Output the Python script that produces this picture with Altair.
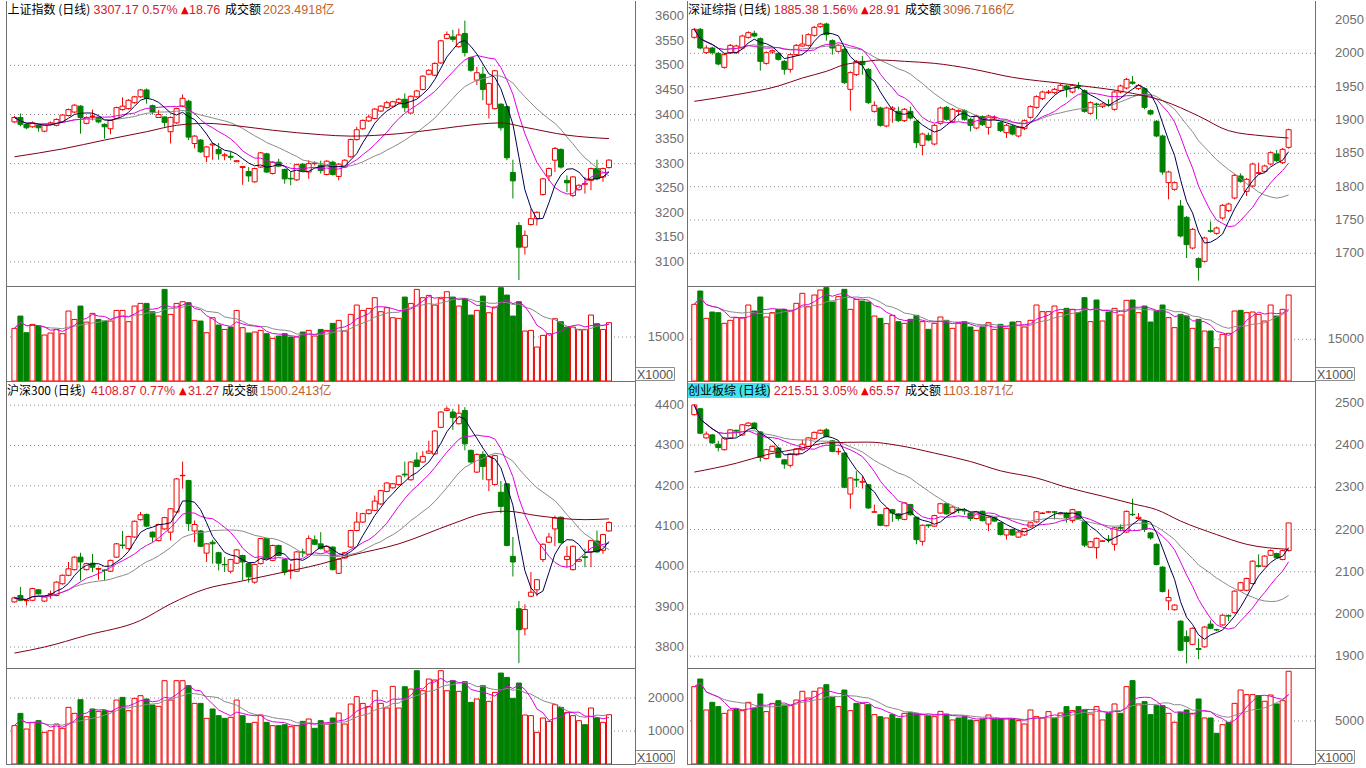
import altair as alt
import pandas as pd

# ---------------- 上证指数 ----------------
SH_TEXT = ["上证指数 (日线)", "3307.17 0.57%", "18.76", "2023.4918亿"]
SH_O = [3385,3394,3380,3375,3378,3366,3380,3378,3385,3398,
        3405,3417,3382,3396,3394,3380,3371,3392,3410,3412,
        3424,3436,3450,3418,3394,3395,3365,3383,3417,3427,
        3341,3348,3314,3338,3329,3316,3315,3304,3292,3284,
        3263,3293,3320,3280,3303,3288,3270,3267,3299,3283,
        3300,3297,3278,3303,3274,3293,3314,3349,3371,3387,
        3392,3407,3414,3417,3424,3431,3403,3436,3451,3482,
        3480,3505,3555,3558,3538,3565,3516,3470,3482,3421,
        3412,3421,3416,3282,3174,3130,3176,3188,3237,3275,
        3307,3329,3266,3235,3247,3258,3266,3290,3273,3292]
SH_H = [3397,3402,3382,3386,3380,3382,3386,3392,3401,3412,
        3421,3419,3396,3410,3396,3382,3390,3416,3435,3431,
        3438,3452,3453,3420,3409,3396,3396,3414,3441,3430,
        3358,3350,3336,3342,3342,3322,3324,3307,3295,3293,
        3292,3324,3322,3305,3310,3290,3283,3300,3301,3307,
        3305,3306,3307,3306,3301,3309,3351,3375,3390,3400,
        3413,3419,3428,3428,3434,3443,3439,3450,3480,3492,
        3506,3552,3569,3572,3575,3591,3518,3497,3497,3465,
        3491,3423,3418,3308,3181,3164,3208,3203,3271,3292,
        3334,3331,3276,3275,3258,3273,3292,3308,3292,3309]
SH_L = [3383,3376,3370,3373,3365,3364,3378,3376,3383,3396,
        3403,3361,3380,3388,3382,3351,3360,3390,3408,3410,
        3422,3434,3422,3400,3393,3375,3341,3381,3415,3348,
        3331,3322,3303,3308,3308,3307,3307,3303,3257,3263,
        3261,3291,3281,3278,3293,3259,3256,3265,3284,3269,
        3296,3280,3276,3276,3266,3291,3312,3347,3369,3385,
        3390,3405,3412,3415,3422,3405,3401,3434,3449,3480,
        3478,3503,3553,3548,3536,3518,3487,3460,3429,3392,
        3410,3367,3307,3229,3063,3115,3174,3174,3235,3265,
        3283,3290,3242,3232,3245,3239,3246,3266,3263,3290]
SH_C = [3394,3380,3373,3383,3373,3380,3383,3390,3399,3410,
        3419,3394,3394,3397,3385,3375,3388,3414,3417,3429,
        3436,3450,3433,3405,3400,3384,3394,3412,3433,3354,
        3356,3324,3334,3340,3320,3318,3313,3306,3294,3275,
        3290,3322,3283,3303,3295,3269,3269,3298,3286,3300,
        3301,3286,3305,3278,3299,3307,3349,3369,3388,3395,
        3411,3417,3424,3426,3431,3414,3437,3448,3478,3490,
        3504,3550,3563,3553,3562,3526,3490,3485,3451,3463,
        3489,3373,3312,3265,3130,3154,3188,3201,3269,3290,
        3331,3293,3261,3273,3256,3260,3290,3269,3290,3307.17]
SH_V = [17950,22150,16470,19300,18750,15680,16360,17600,16130,23860,
        21000,25560,20100,23060,21000,20450,20450,24080,24080,20220,
        25560,26470,26470,23630,22150,31240,22720,26470,27040,26700,
        20680,20450,16470,21580,19080,17600,18400,24080,18180,16360,
        16700,17270,16130,14540,15340,16130,15000,15000,16700,17270,
        15340,17600,17270,19650,20680,17040,22720,25900,24080,24770,
        28400,23630,24990,21580,21360,28630,26470,31240,28400,29200,
        25900,28060,30440,28630,25560,28060,22490,24080,28970,23290,
        25220,31810,29310,22150,27040,17040,17270,11590,15560,16130,
        21240,20220,18400,18400,17600,17600,22490,19540,17600,19880]
SH_MA60_I = [0, 8, 15, 22, 27, 32, 37, 43, 51, 56, 64, 71, 77, 81, 85, 92, 99]
SH_MA60_V = [3314, 3330, 3348, 3365, 3378, 3382, 3377, 3368, 3359, 3356, 3361, 3371, 3380, 3383, 3374, 3358, 3351]
SH_YTICKS = [3100, 3150, 3200, 3250, 3300, 3350, 3400, 3450, 3500, 3550, 3600]
SH_GRID = [3100, 3200, 3300, 3400, 3500]
SH_VTICKS = [15000]

# ---------------- 深证综指 ----------------
SZ_TEXT = ["深证综指 (日线)", "1885.38 1.56%", "28.91", "3096.7166亿"]
SZ_O = [2024,2036,2001,2008,2000,1979,2001,2001,2008,2024,
        2030,2022,1985,2002,2000,1988,1976,1998,2011,2012,
        2027,2040,2044,2019,2003,2006,1946,1968,1988,1976,
        1913,1918,1891,1916,1913,1899,1913,1898,1862,1877,
        1864,1895,1919,1898,1913,1914,1901,1888,1905,1889,
        1903,1896,1881,1891,1876,1887,1904,1919,1932,1941,
        1941,1944,1951,1942,1951,1944,1910,1924,1920,1923,
        1916,1942,1948,1957,1947,1947,1914,1898,1876,1806,
        1796,1771,1754,1708,1692,1688,1734,1730,1753,1764,
        1783,1816,1793,1801,1820,1823,1834,1849,1836,1859]
SZ_H = [2038,2038,2012,2010,2002,2000,2014,2013,2028,2033,
        2034,2024,2003,2006,2002,1990,2000,2014,2028,2030,
        2041,2046,2046,2021,2014,2008,1973,1990,1996,1978,
        1928,1920,1920,1921,1920,1918,1920,1900,1881,1881,
        1894,1920,1921,1918,1916,1916,1903,1908,1907,1908,
        1907,1898,1894,1893,1891,1901,1922,1937,1944,1945,
        1948,1954,1953,1954,1957,1946,1928,1926,1926,1931,
        1944,1953,1963,1966,1954,1949,1916,1900,1878,1824,
        1808,1780,1756,1738,1694,1725,1748,1740,1774,1776,
        1819,1820,1813,1836,1836,1833,1853,1855,1858,1887]
SZ_L = [2022,2006,1999,1998,1982,1977,1999,1999,2006,2022,
        2024,1974,1983,1999,1989,1968,1971,1996,2010,2010,
        2025,2038,2019,1998,2001,1954,1914,1966,1968,1924,
        1911,1890,1889,1896,1897,1897,1901,1858,1847,1868,
        1862,1893,1899,1896,1906,1899,1883,1886,1891,1878,
        1900,1882,1873,1877,1874,1885,1902,1917,1930,1939,
        1939,1942,1934,1940,1946,1911,1908,1901,1918,1920,
        1914,1940,1946,1953,1945,1916,1907,1874,1818,1781,
        1794,1724,1693,1706,1659,1686,1731,1728,1751,1762,
        1781,1806,1786,1799,1818,1821,1832,1837,1834,1857]
SZ_C = [2036,2008,2008,2001,1984,1998,2012,2011,2026,2031,
        2026,1988,2001,2004,1991,1976,1998,2012,2014,2028,
        2039,2044,2028,2008,2012,1956,1971,1988,1983,1926,
        1922,1892,1918,1918,1899,1916,1903,1866,1879,1870,
        1892,1918,1901,1916,1914,1901,1892,1906,1893,1906,
        1904,1884,1892,1879,1889,1899,1920,1935,1942,1942,
        1946,1952,1947,1952,1950,1913,1926,1923,1924,1922,
        1942,1951,1961,1955,1952,1919,1909,1876,1822,1822,
        1806,1726,1713,1736,1679,1723,1733,1738,1772,1774,
        1817,1808,1811,1834,1821,1831,1851,1839,1856,1885.38]
SZ_V = [27600,32400,22560,24840,24600,20760,21840,22800,22800,27360,
        25200,30240,23040,24600,25800,25800,25440,27960,31560,26760,
        30960,32760,33600,28440,30360,33000,25800,29400,28800,28440,
        23400,22560,20640,23640,21360,20760,22200,23640,21360,18600,
        20760,23040,21840,18960,20760,21360,19440,18240,19440,21000,
        18600,20400,18960,21240,21360,19440,21840,27360,24960,24960,
        27000,24600,26160,25800,24600,30000,21360,29160,21600,24840,
        26160,23760,29040,29160,24600,27000,21240,25200,27360,22800,
        19200,24000,23400,18960,22200,18000,18000,12000,16800,17160,
        25200,25440,24600,24840,24000,21600,27360,23400,25800,30960]
SZ_MA60_I = [0, 7, 14, 18, 22, 25, 28, 31, 35, 40, 46, 53, 62, 73, 78, 84, 89, 95, 99]
SZ_MA60_V = [1928, 1938, 1951, 1963, 1973, 1983, 1987, 1990, 1988, 1985, 1977, 1964, 1954, 1940, 1929, 1906, 1884, 1876, 1873]
SZ_YTICKS = [1700, 1750, 1800, 1850, 1900, 1950, 2000, 2050]
SZ_GRID = [1700, 1750, 1800, 1850, 1900, 1950, 2000]
SZ_VTICKS = [15000]

# ---------------- 沪深300 ----------------
HS_TEXT = ["沪深300 (日线)", "4108.87 0.77%", "31.27", "1500.2413亿"]
HS_O = [3912,3928,3915,3916,3942,3914,3931,3928,3957,3978,
        3992,4023,3992,4008,3993,3991,3988,4023,4053,4044,
        4073,4116,4129,4085,4064,4093,4085,4135,4225,4213,
        4088,4088,4033,4060,4034,4005,3988,4008,4027,4007,
        3961,4007,4069,4015,4052,4017,3989,3988,4036,4030,
        4066,4056,4038,4048,3983,4021,4048,4089,4110,4131,
        4139,4155,4186,4195,4203,4229,4215,4264,4259,4281,
        4279,4345,4387,4383,4354,4387,4288,4234,4278,4215,
        4203,4184,4205,4025,3895,3845,3926,3942,4017,4060,
        4093,4122,4017,3992,4013,4024,4036,4063,4040,4088]
HS_H = [3925,3949,3918,3947,3944,3926,3940,3963,3980,4011,
        4025,4034,4009,4031,3997,3993,4017,4058,4088,4076,
        4114,4135,4131,4087,4106,4123,4145,4219,4260,4215,
        4114,4090,4058,4066,4036,4023,4019,4043,4029,4009,
        4007,4071,4071,4054,4054,4019,4007,4038,4044,4077,
        4077,4085,4052,4050,4020,4036,4091,4135,4133,4142,
        4176,4190,4209,4207,4226,4260,4261,4283,4286,4312,
        4338,4385,4397,4391,4402,4395,4290,4280,4286,4275,
        4277,4212,4207,4073,3914,3906,3986,3969,4057,4083,
        4126,4124,4050,4052,4019,4044,4066,4089,4081,4112]
HS_L = [3910,3914,3903,3914,3930,3912,3920,3926,3955,3976,
        3990,3965,3990,3986,3967,3965,3986,4021,4044,4042,
        4071,4114,4098,4060,4062,4091,4064,4133,4193,4088,
        4060,4048,4011,4007,3990,3986,3983,4006,3965,3960,
        3957,4005,4017,4013,4025,3978,3969,3986,4023,4028,
        4053,4042,4036,3990,3982,4019,4046,4087,4108,4129,
        4137,4153,4184,4193,4201,4221,4213,4246,4257,4279,
        4277,4343,4385,4339,4352,4288,4255,4232,4215,4187,
        4201,4132,4050,3975,3760,3829,3924,3926,4011,4058,
        4050,4057,3998,3990,4011,3998,3998,4034,4031,4086]
HS_C = [3922,3916,3916,3945,3932,3924,3932,3961,3978,3994,
        4023,4011,4007,3998,3995,3990,4015,4056,4052,4074,
        4112,4128,4100,4073,4104,4121,4143,4217,4226,4106,
        4104,4050,4056,4056,4008,4004,4017,4041,4011,3974,
        4005,4069,4019,4052,4027,3986,3991,4036,4035,4069,
        4055,4044,4050,3992,4018,4034,4089,4110,4131,4140,
        4162,4188,4207,4205,4224,4227,4259,4248,4273,4286,
        4336,4383,4391,4369,4380,4304,4259,4278,4248,4273,
        4275,4149,4052,4011,3843,3893,3936,3967,4055,4073,
        4120,4059,4025,4050,4017,4022,4064,4036,4079,4108.87]
HS_V = [11620,15350,10600,12630,13130,9600,10100,12120,10810,17170,
        15350,19490,14340,16670,15960,16160,15960,19390,20200,16160,
        19900,20710,19700,17880,17470,25250,19390,25250,25250,23740,
        18380,18380,13840,16670,14650,13840,14140,19390,14650,12320,
        12630,14850,12630,11620,11620,11920,11310,11620,12930,13640,
        10810,13130,12120,13940,15450,12120,18180,20400,18380,17370,
        22220,18380,16970,23530,16970,23430,22720,28280,22220,25750,
        25450,28280,22220,25250,22020,24950,18690,19700,23740,18990,
        21720,27570,26260,19900,24540,14850,14650,9600,13940,12930,
        17980,17170,15650,14650,13130,11920,16970,13940,12630,14950]
HS_MA60_I = [0, 5, 12, 21, 26, 32, 37, 43, 51, 56, 64, 73, 78, 82, 87, 95, 99]
HS_MA60_V = [3785, 3800, 3829, 3866, 3907, 3945, 3961, 3980, 4006, 4027, 4056, 4106, 4131, 4137, 4126, 4116, 4118]
HS_YTICKS = [3800, 3900, 4000, 4100, 4200, 4300, 4400]
HS_GRID = [3800, 3900, 4000, 4100, 4200, 4300, 4400]
HS_VTICKS = [10000, 20000]

# ---------------- 创业板综 ----------------
CY_TEXT = ["创业板综 (日线)", "2215.51 3.05%", "65.57", "1103.1871亿"]
CY_O = [2472,2486,2417,2424,2402,2389,2417,2435,2424,2446,
        2452,2431,2368,2385,2393,2365,2352,2377,2389,2397,
        2415,2428,2436,2410,2384,2381,2284,2319,2312,2306,
        2241,2235,2209,2247,2237,2224,2259,2229,2172,2211,
        2208,2239,2261,2239,2248,2246,2239,2226,2243,2213,
        2228,2216,2187,2200,2182,2187,2206,2218,2238,2241,
        2242,2237,2239,2221,2242,2218,2158,2157,2172,2177,
        2165,2205,2194,2236,2226,2220,2192,2165,2111,2031,
        2010,1983,1946,1928,1918,1922,1976,1963,1974,1996,
        2003,2056,2056,2072,2114,2113,2139,2143,2129,2150]
CY_H = [2497,2488,2432,2426,2410,2419,2438,2436,2450,2454,
        2454,2433,2391,2399,2395,2367,2381,2393,2413,2419,
        2432,2437,2440,2412,2393,2383,2324,2338,2326,2308,
        2259,2237,2252,2249,2239,2265,2261,2231,2212,2212,
        2235,2263,2263,2255,2253,2251,2241,2244,2245,2231,
        2230,2218,2202,2202,2196,2204,2218,2244,2241,2244,
        2244,2240,2241,2249,2244,2220,2173,2181,2175,2187,
        2206,2212,2245,2273,2239,2222,2194,2167,2113,2058,
        2023,1985,1961,1968,1942,1971,1985,1965,1999,1999,
        2056,2076,2086,2127,2141,2139,2153,2145,2152,2215]
CY_L = [2470,2426,2415,2403,2385,2387,2415,2420,2422,2444,
        2437,2361,2366,2383,2369,2344,2347,2375,2387,2395,
        2413,2426,2418,2383,2377,2298,2249,2300,2297,2249,
        2240,2208,2207,2218,2221,2222,2233,2165,2162,2204,
        2206,2237,2235,2237,2239,2235,2220,2224,2219,2196,
        2218,2186,2176,2185,2180,2185,2204,2216,2237,2240,
        2224,2236,2216,2216,2224,2158,2156,2131,2171,2169,
        2150,2196,2192,2232,2224,2194,2176,2115,2051,2009,
        2008,1912,1883,1926,1893,1920,1964,1959,1972,1983,
        2001,2054,2054,2070,2110,2111,2137,2131,2127,2148]
CY_C = [2495,2428,2426,2405,2394,2417,2436,2433,2448,2452,
        2439,2371,2389,2397,2371,2355,2379,2391,2402,2417,
        2430,2435,2420,2385,2385,2300,2322,2317,2314,2251,
        2242,2210,2250,2239,2226,2263,2235,2176,2210,2209,
        2233,2261,2237,2253,2246,2244,2226,2242,2221,2229,
        2220,2188,2200,2187,2194,2202,2216,2242,2239,2242,
        2241,2238,2228,2247,2226,2163,2171,2179,2173,2176,
        2204,2203,2243,2235,2229,2200,2180,2117,2053,2039,
        2021,1914,1935,1966,1916,1969,1966,1962,1997,1995,
        2054,2074,2084,2125,2113,2137,2150,2133,2150,2215.51]
CY_V = [8990,9880,6280,7170,6670,5890,6280,6400,6200,7170,
        6510,8140,6090,7050,7360,6860,6780,7440,8450,7670,
        8450,8840,9220,7750,6670,8600,6200,7050,7050,6900,
        5740,5500,5350,5740,5310,5890,6010,5890,5740,5620,
        5500,6120,5810,5120,5350,5500,5120,5040,5230,5700,
        5230,5230,5230,5230,5040,4650,6280,5500,5350,6090,
        5310,5930,6670,6200,6670,6280,5810,6670,5120,5890,
        6980,5890,8990,9690,6980,7250,5740,6780,6780,5890,
        4850,6010,6280,5890,7560,5350,5350,3570,4570,4850,
        7050,8600,8060,8060,7950,7290,8020,6980,7360,10780]
CY_MA60_I = [0, 7, 12, 18, 22, 29, 34, 40, 46, 51, 57, 62, 68, 73, 77, 81, 87, 92, 99]
CY_MA60_V = [2336, 2357, 2377, 2393, 2405, 2407, 2399, 2381, 2361, 2339, 2322, 2300, 2279, 2261, 2247, 2220, 2188, 2165, 2153]
CY_YTICKS = [1900, 2000, 2100, 2200, 2300, 2400, 2500]
CY_GRID = [1900, 2000, 2100, 2200, 2300, 2400]
CY_VTICKS = [5000]

# ---------------- styling ----------------
RED = "#f00000"
GREEN = "#008000"
NAVY = "#000050"
MAGENTA = "#e000e0"
GRAY = "#8a8a8a"
MAROON = "#800018"
TXT_RED = "#d8202c"
BROWN = "#c0622f"
AXIS_TXT = "#6e6e6e"
FRAME = "#707070"
CJK = "Noto Sans CJK SC"
NUM = "Liberation Sans, Noto Sans CJK SC"

ONE = pd.DataFrame({"k": [0]})


def cond(a, b):
    return alt.condition("datum.up", alt.value(a), alt.value(b))


def axis_labels(vals, scale, width):
    return alt.Chart(pd.DataFrame({"t": vals})).mark_text(
        align="right", baseline="middle", font="Liberation Sans", fontSize=13,
        color=AXIS_TXT).encode(
        y=alt.Y("t:Q", scale=scale, axis=None), x=alt.value(width + 49),
        text=alt.Text("t:Q", format="d"))


def frame(width, height):
    # left, right and bottom borders of a plot area (no top border)
    left = alt.Chart(ONE).mark_rule(color=FRAME, strokeWidth=1).encode(
        x=alt.value(0.5), y=alt.value(0), y2=alt.value(height))
    right = alt.Chart(ONE).mark_rule(color=FRAME, strokeWidth=1).encode(
        x=alt.value(width + 0.5), y=alt.value(0), y2=alt.value(height))
    bottom = alt.Chart(ONE).mark_rule(color=FRAME, strokeWidth=1).encode(
        x=alt.value(0), x2=alt.value(width + 1), y=alt.value(height + 0.5))
    return [left, right, bottom]


def panel(O, H, L, C, V, mi, mv, texts, xoffs, pdom, ptick, pgrid, vdom, vtick,
          width, pheight, vheight, head_y, xdom, cyan=False):
    df = pd.DataFrame({"i": list(range(len(C))), "o": O, "h": H, "l": L, "c": C, "v": V})
    df["up"] = df["c"] >= df["o"]
    ma_df = pd.DataFrame({"i": mi, "m": mv})
    xsc = alt.Scale(domain=xdom, nice=False, zero=False)
    X = alt.X("i:Q", scale=xsc, axis=None)
    ysc = alt.Scale(domain=pdom, nice=False, zero=False)
    base = alt.Chart(df)

    grid = alt.Chart(pd.DataFrame({"g": pgrid})).mark_rule(
        color="#8c8c8c", strokeDash=[1, 3], strokeWidth=1).encode(
        y=alt.Y("g:Q", scale=ysc, axis=None))
    wick = base.mark_rule(strokeWidth=1).encode(
        x=X, y=alt.Y("l:Q", scale=ysc, axis=None), y2="h:Q", color=cond(RED, GREEN))
    body = base.mark_bar(size=5, strokeWidth=1).encode(
        x=X, y=alt.Y("o:Q", scale=ysc, axis=None), y2="c:Q",
        fill=cond("#ffffff", GREEN), stroke=cond(RED, GREEN))
    lines = []
    for n, col in ((20, GRAY), (10, MAGENTA), (5, NAVY)):
        lines.append(base.transform_window(
            m="mean(c)", frame=[-(n - 1), 0], sort=[alt.SortField("i")]).mark_line(
            color=col, strokeWidth=1).encode(x=X, y=alt.Y("m:Q", scale=ysc, axis=None)))
    ma60 = alt.Chart(ma_df).mark_line(color=MAROON, strokeWidth=1, interpolate="monotone").encode(
        x=X, y=alt.Y("m:Q", scale=ysc, axis=None))

    hdr = []
    if cyan:
        hdr.append(alt.Chart(ONE).mark_rect(color="#3fe4ec").encode(
            x=alt.value(1), x2=alt.value(83), y=alt.value(head_y - 8), y2=alt.value(head_y + 7)))
    name, quote, chg, amt = texts
    segs = [(name, xoffs[0], "#000000", CJK, 12),
            (quote, xoffs[1], TXT_RED, NUM, 12.5),
            ("▲", xoffs[2], "#f00000", "DejaVu Sans", 10),
            (chg, xoffs[3], TXT_RED, NUM, 12.5),
            ("成交额", xoffs[4], "#000000", CJK, 12),
            (amt, xoffs[5], BROWN, NUM, 12.5)]
    for s, xo, col, fnt, fs in segs:
        hdr.append(alt.Chart(ONE).mark_text(align="left", baseline="middle", font=fnt,
                                            fontSize=fs, color=col).encode(
            x=alt.value(xo), y=alt.value(head_y), text=alt.value(s)))

    price = alt.layer(grid, wick, body, *lines, ma60, *hdr, *frame(width, pheight),
                      axis_labels(ptick, ysc, width)).properties(width=width, height=pheight)

    vsc = alt.Scale(domain=vdom, nice=False, zero=True)
    vgrid = alt.Chart(pd.DataFrame({"g": vtick})).mark_rule(
        color="#8c8c8c", strokeDash=[1, 3], strokeWidth=1).encode(
        y=alt.Y("g:Q", scale=vsc, axis=None))
    vbar = base.mark_bar(size=5, strokeWidth=1).encode(
        x=X, y=alt.Y("v:Q", scale=vsc, axis=None),
        fill=cond("#ffffff", GREEN), stroke=cond(RED, GREEN))
    vlines = []
    for n, col in ((10, GRAY), (5, MAGENTA)):
        vlines.append(base.transform_window(
            m="mean(v)", frame=[-(n - 1), 0], sort=[alt.SortField("i")]).mark_line(
            color=col, strokeWidth=1).encode(x=X, y=alt.Y("m:Q", scale=vsc, axis=None)))
    box = alt.Chart(ONE).mark_rect(fill="#ffffff", stroke="#8c8c8c", strokeWidth=1).encode(
        x=alt.value(width + 0.5), x2=alt.value(width + 39.5),
        y=alt.value(vheight - 13.5), y2=alt.value(vheight - 0.5))
    boxt = alt.Chart(ONE).mark_text(align="center", baseline="middle", font="Liberation Sans",
                                    fontSize=12.5, color="#555555").encode(
        x=alt.value(width + 20), y=alt.value(vheight - 6.5), text=alt.value("X1000"))
    vol = alt.layer(vgrid, vbar, *vlines, box, boxt, *frame(width, vheight),
                    axis_labels(vtick, vsc, width)).properties(width=width, height=vheight)
    return price, vol


LX = [-0.57, 102.5]
RX = [-0.38, 102.56]

sh_p, sh_v = panel(SH_O, SH_H, SH_L, SH_C, SH_V, SH_MA60_I, SH_MA60_V, SH_TEXT,
                   [1.5, 87.5, 175, 183, 219, 257], [3051, 3631], SH_YTICKS, SH_GRID,
                   [0, 32400], SH_VTICKS, 629, 285, 95, 9, LX)
sz_p, sz_v = panel(SZ_O, SZ_H, SZ_L, SZ_C, SZ_V, SZ_MA60_I, SZ_MA60_V, SZ_TEXT,
                   [1, 86.7, 174, 182, 218, 256], [1651, 2078.5], SZ_YTICKS, SZ_GRID,
                   [0, 34200], SZ_VTICKS, 628, 285, 95, 9, RX)
hs_p, hs_v = panel(HS_O, HS_H, HS_L, HS_C, HS_V, HS_MA60_I, HS_MA60_V, HS_TEXT,
                   [1, 85, 173, 182, 216, 254], [3748, 4460], HS_YTICKS, HS_GRID,
                   [0, 29100], HS_VTICKS, 629, 287, 96, 10, LX)
cy_p, cy_v = panel(CY_O, CY_H, CY_L, CY_C, CY_V, CY_MA60_I, CY_MA60_V, CY_TEXT,
                   [1, 86.7, 174, 182, 218, 256], [1872, 2551.7], CY_YTICKS, CY_GRID,
                   [0, 11160], CY_VTICKS, 628, 287, 96, 10, RX, cyan=True)

chart = alt.concat(sh_p, sz_p, sh_v, sz_v, hs_p, cy_p, hs_v, cy_v,
                   columns=2, spacing={"row": 0, "column": 52}, bounds="flush").properties(
    padding={"left": 5, "top": 0, "right": 0, "bottom": 0},
    background="#ffffff",
).configure_view(stroke=None)

chart.save("out.html", embed_options={"renderer": "svg", "actions": False})
